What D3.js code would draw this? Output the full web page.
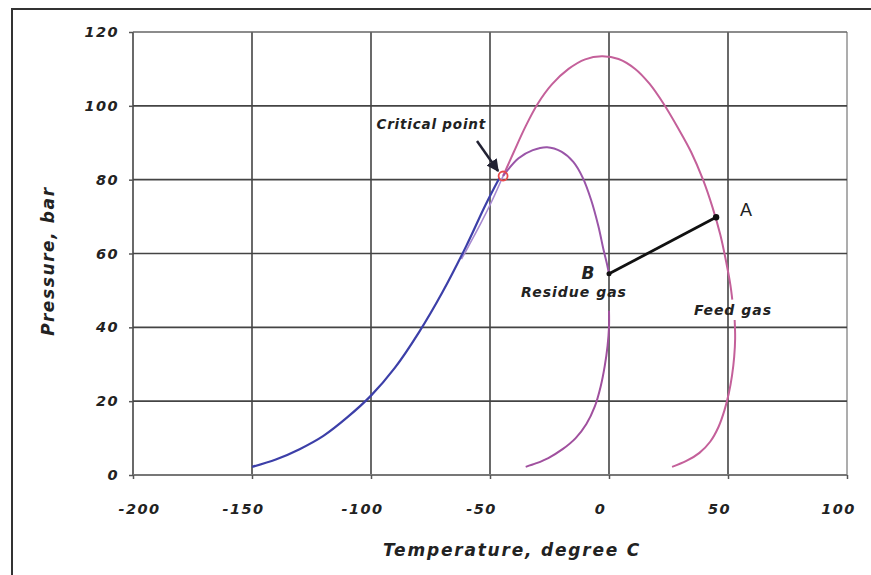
<!DOCTYPE html>
<html>
<head>
<meta charset="utf-8">
<script src="https://cdn.jsdelivr.net/npm/d3@7"></script>
<style>
body{margin:0;background:#fff;}
text{font-family:"DejaVu Sans",Verdana,sans-serif;font-weight:bold;font-style:italic;}
</style>
</head>
<body>
<div id="chart"></div>
<script>
// tick values
var xTicks = [-200,-150,-100,-50,0,50,100]
var yTicks = [0,20,40,60,80,100,120]

// curves, [temperature C, pressure bar]
var feedGasUpper = [[-44.5,81],[-40,87.5],[-35,94.5],[-30,100.5],[-24,105.8],[-17,110],[-10,112.6],[-3,113.4],[4,112.7],[11,110],[17,106],[23,100.5],[29,94],[34.5,87.5],[39.5,80],[43.5,72.5],[46.8,65],[49.3,57.5],[51,51.5],[51.8,47.5]]
var feedGasLower = [[52.8,42],[53,37],[52.6,32],[51.7,27],[50.3,22],[48.5,17.5],[46,13],[42.5,9],[38,6],[32.5,3.8],[26.5,2.2]]
var residueUpper = [[-44.5,81],[-38,85.8],[-32,88],[-26,88.8],[-20,87.6],[-15,84.8],[-11,80.5],[-7.5,74.5],[-4.5,67.5],[-2.3,61],[-0.8,57],[0,54.5]]
var residueLower = [[0,44.5],[0,40],[-0.6,35],[-1.8,29.5],[-3.5,24],[-6,18.5],[-9.5,13.8],[-14,10],[-19.5,7],[-25.5,4.6],[-30.5,3.2],[-35,2.2]]
var vapourLine = [[-150,2.2],[-140,4.2],[-130,7],[-120,10.6],[-110,15.6],[-100,21.5],[-90,29],[-80,38.5],[-70,49.5],[-60,62],[-52,73],[-46,80.5]]
var feedBubble = [[-44.5,81],[-49,74.5],[-54,68],[-59,62],[-62,58.5]]
var criticalPoint = [-44.5,81]
var pointA = [45,69.8]
var pointB = [0,54.5]

var width = 871, height = 575
var svg = d3.select("#chart").append("svg").attr("width",width).attr("height",height)

var x = d3.scaleLinear().domain([-200,100]).range([133,847])
var y = d3.scaleLinear().domain([0,120]).range([475,32])

// outer frame (top and left only)
svg.append("path").attr("d","M12,575 L12,9 L871,9").attr("fill","none").attr("stroke","#333").attr("stroke-width",2)

// grid
svg.selectAll(".vgrid").data(xTicks).enter().append("line")
    .attr("x1",function(d){return x(d)}).attr("x2",function(d){return x(d)})
    .attr("y1",y(120)).attr("y2",y(0))
    .attr("stroke",function(d){return d==100?"#999":"#444"})
    .attr("stroke-width",1.6)
svg.selectAll(".hgrid").data(yTicks).enter().append("line")
    .attr("y1",function(d){return y(d)}).attr("y2",function(d){return y(d)})
    .attr("x1",x(-200)).attr("x2",x(100))
    .attr("stroke",function(d){return d==0?"#777":(d==120?"#666":"#444")})
    .attr("stroke-width",function(d){return d==0?2.2:1.6})

// axes
var xAxis = d3.axisBottom(x).tickValues(xTicks).tickSize(4).tickPadding(25).tickFormat(function(d){return String(d)})
var yAxis = d3.axisLeft(y).tickValues(yTicks).tickSize(4).tickPadding(10).tickFormat(function(d){return String(d)})
var gx = svg.append("g").attr("transform","translate(0,"+y(0)+")").call(xAxis)
var gy = svg.append("g").attr("transform","translate("+x(-200)+",0)").call(yAxis)
gx.select(".domain").remove()
gy.select(".domain").remove()
svg.selectAll(".tick line").attr("stroke","#555").attr("stroke-width",1.5)
svg.selectAll(".tick text").attr("fill","#222").style("font-size","14.5px").style("letter-spacing","1.4px")
    .style("font-family","'DejaVu Sans',sans-serif").style("font-weight","bold").style("font-style","italic")
gx.selectAll(".tick text").attr("dx",function(d){return d==-200?6:-9})

// curves
var line = d3.line().x(function(d){return x(d[0])}).y(function(d){return y(d[1])}).curve(d3.curveCatmullRom.alpha(0.5))

function drawCurve(data,color,w){
    svg.append("path").datum(data).attr("d",line)
        .attr("fill","none").attr("stroke",color).attr("stroke-width",w)
}
drawCurve(feedBubble,"#a78ad0",1.6)
drawCurve(vapourLine,"#3c3fa8",2.2)
drawCurve(feedGasUpper,"#c4609a",2)
drawCurve(feedGasLower,"#c4609a",2)
drawCurve(residueUpper,"#9a55a8",2)
drawCurve(residueLower,"#a0509e",2)

// A-B line
svg.append("line").attr("x1",x(pointB[0])).attr("y1",y(pointB[1]))
    .attr("x2",x(pointA[0])).attr("y2",y(pointA[1]))
    .attr("stroke","#111").attr("stroke-width",2.8)
svg.append("circle").attr("cx",x(pointA[0])).attr("cy",y(pointA[1])).attr("r",3.2).attr("fill","#111")
svg.append("circle").attr("cx",x(pointB[0])).attr("cy",y(pointB[1])).attr("r",2.5).attr("fill","#111")

// critical point
svg.append("circle").attr("cx",x(criticalPoint[0])).attr("cy",y(criticalPoint[1])).attr("r",4.5)
    .attr("fill","none").attr("stroke","#e8484a").attr("stroke-width",1.8)

// arrow to critical point
svg.append("defs").append("marker").attr("id","arr").attr("viewBox","0 0 10 10")
    .attr("refX",9).attr("refY",5).attr("markerWidth",5).attr("markerHeight",5).attr("orient","auto")
    .append("path").attr("d","M0,0 L10,5 L0,10 z").attr("fill","#223")
svg.append("line").attr("x1",477).attr("y1",141).attr("x2",x(criticalPoint[0])-5).attr("y2",y(criticalPoint[1])-5)
    .attr("stroke","#223").attr("stroke-width",2.5).attr("marker-end","url(#arr)")

// labels
function label(t,px,py,size,anchor,ls,italic){
    return svg.append("text").attr("x",px).attr("y",py).text(t)
        .attr("text-anchor",anchor).attr("fill","#222")
        .style("font-size",size+"px").style("letter-spacing",ls+"px")
        .style("font-style",italic?"italic":"normal")
}
label("Critical point",486,129,13.5,"end",0.8,true)
label("B",588,279,17,"middle",0,true)
label("Residue gas",574,297,14,"middle",1,true)
label("Feed gas",733,315,14,"middle",1,true)
label("A",746,216,18,"middle",0,false).style("font-family","'Liberation Sans',Arial,sans-serif").style("font-weight","normal")

// axis titles
label("Temperature, degree C",512,556,17,"middle",1.8,true)
label("Pressure, bar",0,0,17,"middle",1.6,true).attr("transform","translate(54,261) rotate(-90)")
</script>
</body>
</html>
